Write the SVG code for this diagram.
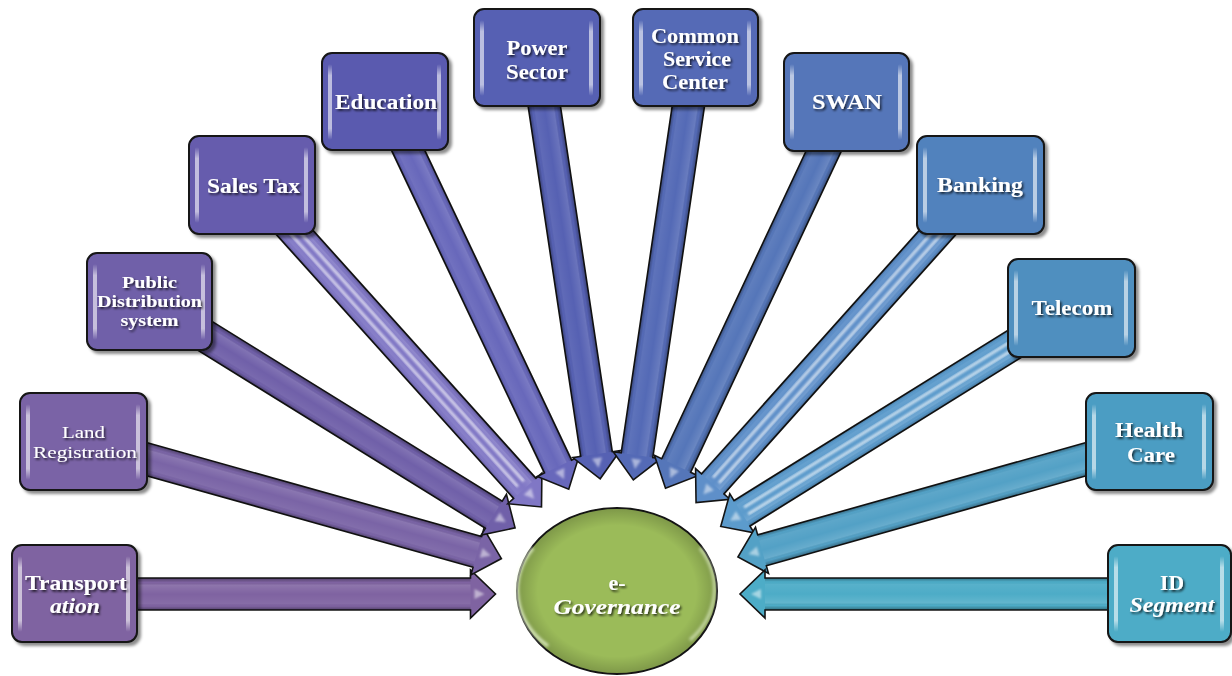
<svg xmlns="http://www.w3.org/2000/svg" width="1232" height="676" viewBox="0 0 1232 676">
  <defs>
    <filter id="tshadow" x="-10%" y="-30%" width="130%" height="170%">
      <feDropShadow dx="1.5" dy="1.8" stdDeviation="0.9" flood-color="#000" flood-opacity="0.75"/>
    </filter>
    <filter id="bshadow" x="-10%" y="-10%" width="125%" height="125%">
      <feDropShadow dx="3" dy="3" stdDeviation="1.6" flood-color="#000" flood-opacity="0.45"/>
    </filter>
    <filter id="soft" x="-20%" y="-20%" width="140%" height="140%">
      <feGaussianBlur stdDeviation="0.8"/>
    </filter>
    <filter id="soft2" x="-20%" y="-20%" width="140%" height="140%">
      <feGaussianBlur stdDeviation="1.6"/>
    </filter>
    <!-- bevel shading across an arrow shaft (local coords, shaft spans y -16..16) -->
    <linearGradient id="ashade" gradientUnits="userSpaceOnUse" x1="0" y1="-16" x2="0" y2="16">
      <stop offset="0" stop-color="#000" stop-opacity="0.35"/>
      <stop offset="0.14" stop-color="#000" stop-opacity="0"/>
      <stop offset="0.22" stop-color="#fff" stop-opacity="0.12"/>
      <stop offset="0.5" stop-color="#fff" stop-opacity="0"/>
      <stop offset="0.8" stop-color="#fff" stop-opacity="0.06"/>
      <stop offset="0.88" stop-color="#000" stop-opacity="0"/>
      <stop offset="1" stop-color="#000" stop-opacity="0.35"/>
    </linearGradient>
    <!-- glass strip inside each box -->
    <linearGradient id="strip" x1="0" y1="0" x2="0" y2="1">
      <stop offset="0" stop-color="#fff" stop-opacity="0"/>
      <stop offset="0.15" stop-color="#fff" stop-opacity="0.6"/>
      <stop offset="0.85" stop-color="#fff" stop-opacity="0.6"/>
      <stop offset="1" stop-color="#fff" stop-opacity="0"/>
    </linearGradient>
    <radialGradient id="orbShade" cx="0.5" cy="0.5" r="0.5">
      <stop offset="0.8" stop-color="#000" stop-opacity="0"/>
      <stop offset="1" stop-color="#000" stop-opacity="0.18"/>
    </radialGradient>
  </defs>
  <style>
    .arr { stroke: #141414; stroke-width: 1.6; stroke-linejoin: miter; }
    .shade { fill: url(#ashade); }
    .stripe { stroke: #fff; stroke-width: 2.4; stroke-opacity: 0.75; fill: none; filter: url(#soft); }
    .tick { fill: #fff; fill-opacity: 0.5; filter: url(#soft); }
    .box { stroke: #141414; stroke-width: 2; }
    .glass { fill: url(#strip); }
    .lbl { font-family: "Liberation Serif", "Times New Roman", serif; font-weight: bold; fill: #fff; text-anchor: middle; }
    .reg { font-weight: normal; }
    .it { font-style: italic; }
  </style>

  <rect width="1232" height="676" fill="#fff"/>

  <!-- connectors: block arrows from each box towards the hub -->
  <g id="connectors">
    <g transform="translate(74.5,594) rotate(0)">
      <path class="arr" fill="hsl(267,25%,51%)" d="M0,-16 H396 V-24 L421,0 L396,24 V16 H0 Z"/>
      <rect class="shade" x="0" y="-16" width="396" height="32"/>
      <path class="tick" d="M400,5 L410,0 L400,-5 Z"/>
    </g>
    <g transform="translate(83.5,441.5) rotate(15.65)">
      <path class="arr" fill="hsl(260,27%,52%)" d="M0,-16 H409 V-24 L434,0 L409,24 V16 H0 Z"/>
      <rect class="shade" x="0" y="-16" width="409" height="32"/>
      <path class="tick" d="M413,5 L423,0 L413,-5 Z"/>
    </g>
    <g transform="translate(149.5,301.5) rotate(31.77)">
      <path class="arr" fill="hsl(253,30%,52%)" d="M0,-16 H405 V-24 L430,0 L405,24 V16 H0 Z"/>
      <rect class="shade" x="0" y="-16" width="405" height="32"/>
      <path class="tick" d="M409,5 L419,0 L409,-5 Z"/>
    </g>
    <g transform="translate(252,185) rotate(48.04)">
      <path class="arr" fill="hsl(247,40%,62%)" d="M0,-15 H408 V-23 L433,0 L408,23 V15 H0 Z"/>
      <rect class="shade" x="0" y="-16" width="408" height="32"/>
      <path class="stripe" d="M0,-4 H402 M0,4 H402"/>
      <path class="tick" d="M412,5 L422,0 L412,-5 Z"/>
    </g>
    <g transform="translate(385,101.5) rotate(64.64)">
      <path class="arr" fill="hsl(240,38%,57%)" d="M0,-15 H404 V-23 L429,0 L404,23 V15 H0 Z"/>
      <rect class="shade" x="0" y="-16" width="404" height="32"/>
      <path class="stripe" d="M0,-3 H398" stroke-opacity="0.45"/>
      <path class="tick" d="M408,5 L418,0 L408,-5 Z"/>
    </g>
    <g transform="translate(537,57.5) rotate(81.47)">
      <path class="arr" fill="hsl(233,38%,52%)" d="M0,-16 H401 V-24 L426,0 L401,24 V16 H0 Z"/>
      <rect class="shade" x="0" y="-16" width="401" height="32"/>
      <path class="tick" d="M405,5 L415,0 L405,-5 Z"/>
    </g>
    <g transform="translate(695.5,57.5) rotate(98.37)">
      <path class="arr" fill="hsl(226,40%,52%)" d="M0,-16 H402 V-24 L427,0 L402,24 V16 H0 Z"/>
      <rect class="shade" x="0" y="-16" width="402" height="32"/>
      <path class="tick" d="M406,5 L416,0 L406,-5 Z"/>
    </g>
    <g transform="translate(846.5,102.5) rotate(115.14)">
      <path class="arr" fill="hsl(220,42%,53%)" d="M0,-16 H401 V-24 L426,0 L401,24 V16 H0 Z"/>
      <rect class="shade" x="0" y="-16" width="401" height="32"/>
      <path class="tick" d="M405,5 L415,0 L405,-5 Z"/>
    </g>
    <g transform="translate(980,185) rotate(131.8)">
      <path class="arr" fill="hsl(213,50%,58%)" d="M0,-15 H401 V-23 L426,0 L401,23 V15 H0 Z"/>
      <rect class="shade" x="0" y="-16" width="401" height="32"/>
      <path class="stripe" d="M0,-4 H396 M0,4 H396" stroke-opacity="0.45"/>
      <path class="tick" d="M405,5 L415,0 L405,-5 Z"/>
    </g>
    <g transform="translate(1071.5,308.5) rotate(148.14)">
      <path class="arr" fill="hsl(206,52%,58%)" d="M0,-15 H388 V-23 L413,0 L388,23 V15 H0 Z"/>
      <rect class="shade" x="0" y="-16" width="388" height="32"/>
      <path class="stripe" d="M0,-4 H383 M0,4 H383" stroke-opacity="0.95" stroke-width="3"/>
      <path class="tick" d="M392,5 L402,0 L392,-5 Z"/>
    </g>
    <g transform="translate(1149,441.5) rotate(164.3)">
      <path class="arr" fill="hsl(199,50%,55%)" d="M0,-16 H402 V-24 L427,0 L402,24 V16 H0 Z"/>
      <rect class="shade" x="0" y="-16" width="402" height="32"/>
      <path class="stripe" d="M0,-2 H396" stroke-opacity="0.3" stroke-width="4"/>
      <path class="tick" d="M406,5 L416,0 L406,-5 Z"/>
    </g>
    <g transform="translate(1170,594) rotate(180)">
      <path class="arr" fill="hsl(193,52%,54%)" d="M0,-16 H405 V-24 L430,0 L405,24 V16 H0 Z"/>
      <rect class="shade" x="0" y="-16" width="405" height="32"/>
      <path class="tick" d="M409,5 L419,0 L409,-5 Z"/>
    </g>
  </g>

  <!-- hub -->
  <g id="hub">
    <ellipse cx="617" cy="591" rx="100" ry="83" fill="#9bbb59" stroke="#141414" stroke-width="2"/>
    <ellipse cx="617" cy="591" rx="99" ry="82" fill="url(#orbShade)"/>
    <path d="M533,548 A88,74 0 0 0 548,646" fill="none" stroke="#f4ffe0" stroke-opacity="0.8" stroke-width="3" filter="url(#soft2)"/>
    <path d="M700,548 A88,74 0 0 1 690,640" fill="none" stroke="#f4ffe0" stroke-opacity="0.6" stroke-width="3" filter="url(#soft2)"/>
    <g filter="url(#tshadow)">
      <text class="lbl" x="617" y="590" font-size="22">e-</text>
      <text class="lbl it" x="617" y="614" font-size="22" textLength="127" lengthAdjust="spacingAndGlyphs">Governance</text>
    </g>
  </g>

  <!-- nodes -->
  <g id="transportation">
    <rect class="box" x="12" y="545" width="125" height="97" rx="10" fill="hsl(267,25%,51%)" filter="url(#bshadow)"/>
    <rect class="glass" x="18" y="556" width="4" height="76" rx="2"/>
    <rect class="glass" x="126" y="556" width="4" height="76" rx="2"/>
    <g filter="url(#tshadow)">
      <text class="lbl" x="76" y="590" font-size="21" textLength="102" lengthAdjust="spacingAndGlyphs">Transport</text>
      <text class="lbl it" x="75" y="613" font-size="21" textLength="50" lengthAdjust="spacingAndGlyphs">ation</text>
    </g>
  </g>

  <g id="land-registration">
    <rect class="box" x="20" y="393" width="127" height="97" rx="10" fill="hsl(260,27%,52%)" filter="url(#bshadow)"/>
    <rect class="glass" x="26" y="404" width="4" height="76" rx="2"/>
    <rect class="glass" x="136" y="404" width="4" height="76" rx="2"/>
    <g filter="url(#tshadow)">
      <text class="lbl reg" x="83.5" y="438" font-size="17" textLength="43" lengthAdjust="spacingAndGlyphs">Land</text>
      <text class="lbl reg" x="85" y="458" font-size="17" textLength="104" lengthAdjust="spacingAndGlyphs">Registration</text>
    </g>
  </g>

  <g id="public-distribution">
    <rect class="box" x="87" y="253" width="125" height="97" rx="10" fill="hsl(253,30%,52%)" filter="url(#bshadow)"/>
    <rect class="glass" x="93" y="264" width="4" height="76" rx="2"/>
    <rect class="glass" x="201" y="264" width="4" height="76" rx="2"/>
    <g filter="url(#tshadow)">
      <text class="lbl" x="149.5" y="288" font-size="17" textLength="55" lengthAdjust="spacingAndGlyphs">Public</text>
      <text class="lbl" x="149.5" y="307" font-size="17" textLength="105" lengthAdjust="spacingAndGlyphs">Distribution</text>
      <text class="lbl" x="149.5" y="326" font-size="17" textLength="58" lengthAdjust="spacingAndGlyphs">system</text>
    </g>
  </g>

  <g id="sales-tax">
    <rect class="box" x="189" y="136" width="126" height="98" rx="10" fill="hsl(247,33%,52%)" filter="url(#bshadow)"/>
    <rect class="glass" x="195" y="147" width="4" height="76" rx="2"/>
    <rect class="glass" x="304" y="147" width="4" height="76" rx="2"/>
    <g filter="url(#tshadow)">
      <text class="lbl" x="253.5" y="193" font-size="21" textLength="93" lengthAdjust="spacingAndGlyphs">Sales Tax</text>
    </g>
  </g>

  <g id="education">
    <rect class="box" x="322" y="53" width="126" height="97" rx="10" fill="hsl(240,35%,52%)" filter="url(#bshadow)"/>
    <rect class="glass" x="328" y="64" width="4" height="76" rx="2"/>
    <rect class="glass" x="437" y="64" width="4" height="76" rx="2"/>
    <g filter="url(#tshadow)">
      <text class="lbl" x="386" y="109" font-size="20" textLength="102" lengthAdjust="spacingAndGlyphs">Education</text>
    </g>
  </g>

  <g id="power-sector">
    <rect class="box" x="474" y="9" width="126" height="97" rx="10" fill="hsl(233,38%,52%)" filter="url(#bshadow)"/>
    <rect class="glass" x="480" y="20" width="4" height="76" rx="2"/>
    <rect class="glass" x="589" y="20" width="4" height="76" rx="2"/>
    <g filter="url(#tshadow)">
      <text class="lbl" x="537" y="55" font-size="20" textLength="61" lengthAdjust="spacingAndGlyphs">Power</text>
      <text class="lbl" x="537" y="79" font-size="20" textLength="62" lengthAdjust="spacingAndGlyphs">Sector</text>
    </g>
  </g>

  <g id="common-service-center">
    <rect class="box" x="633" y="9" width="125" height="97" rx="10" fill="hsl(226,40%,52%)" filter="url(#bshadow)"/>
    <rect class="glass" x="639" y="20" width="4" height="76" rx="2"/>
    <rect class="glass" x="747" y="20" width="4" height="76" rx="2"/>
    <g filter="url(#tshadow)">
      <text class="lbl" x="695" y="43" font-size="20" textLength="88" lengthAdjust="spacingAndGlyphs">Common</text>
      <text class="lbl" x="697" y="66" font-size="20" textLength="68" lengthAdjust="spacingAndGlyphs">Service</text>
      <text class="lbl" x="695" y="89" font-size="20" textLength="66" lengthAdjust="spacingAndGlyphs">Center</text>
    </g>
  </g>

  <g id="swan">
    <rect class="box" x="784" y="53" width="125" height="98" rx="10" fill="hsl(220,42%,53%)" filter="url(#bshadow)"/>
    <rect class="glass" x="790" y="64" width="4" height="76" rx="2"/>
    <rect class="glass" x="898" y="64" width="4" height="76" rx="2"/>
    <g filter="url(#tshadow)">
      <text class="lbl" x="847" y="109" font-size="20" textLength="70" lengthAdjust="spacingAndGlyphs">SWAN</text>
    </g>
  </g>

  <g id="banking">
    <rect class="box" x="917" y="136" width="127" height="98" rx="10" fill="hsl(213,45%,53%)" filter="url(#bshadow)"/>
    <rect class="glass" x="923" y="147" width="4" height="76" rx="2"/>
    <rect class="glass" x="1033" y="147" width="4" height="76" rx="2"/>
    <g filter="url(#tshadow)">
      <text class="lbl" x="980" y="192" font-size="20" textLength="86" lengthAdjust="spacingAndGlyphs">Banking</text>
    </g>
  </g>

  <g id="telecom">
    <rect class="box" x="1008" y="259" width="127" height="98" rx="10" fill="hsl(206,47%,53%)" filter="url(#bshadow)"/>
    <rect class="glass" x="1014" y="270" width="4" height="76" rx="2"/>
    <rect class="glass" x="1124" y="270" width="4" height="76" rx="2"/>
    <g filter="url(#tshadow)">
      <text class="lbl" x="1072" y="315" font-size="20" textLength="81" lengthAdjust="spacingAndGlyphs">Telecom</text>
    </g>
  </g>

  <g id="health-care">
    <rect class="box" x="1086" y="393" width="127" height="97" rx="10" fill="hsl(199,50%,53%)" filter="url(#bshadow)"/>
    <rect class="glass" x="1092" y="404" width="4" height="76" rx="2"/>
    <rect class="glass" x="1202" y="404" width="4" height="76" rx="2"/>
    <g filter="url(#tshadow)">
      <text class="lbl" x="1149" y="437" font-size="20" textLength="68" lengthAdjust="spacingAndGlyphs">Health</text>
      <text class="lbl" x="1151" y="462" font-size="20" textLength="48" lengthAdjust="spacingAndGlyphs">Care</text>
    </g>
  </g>

  <g id="id-segment">
    <rect class="box" x="1108" y="545" width="123" height="97" rx="10" fill="hsl(193,52%,54%)" filter="url(#bshadow)"/>
    <rect class="glass" x="1114" y="556" width="4" height="76" rx="2"/>
    <rect class="glass" x="1220" y="556" width="4" height="76" rx="2"/>
    <g filter="url(#tshadow)">
      <text class="lbl" x="1172" y="590" font-size="20" textLength="24" lengthAdjust="spacingAndGlyphs">ID</text>
      <text class="lbl it" x="1172" y="612" font-size="20" textLength="85" lengthAdjust="spacingAndGlyphs">Segment</text>
    </g>
  </g>
</svg>
